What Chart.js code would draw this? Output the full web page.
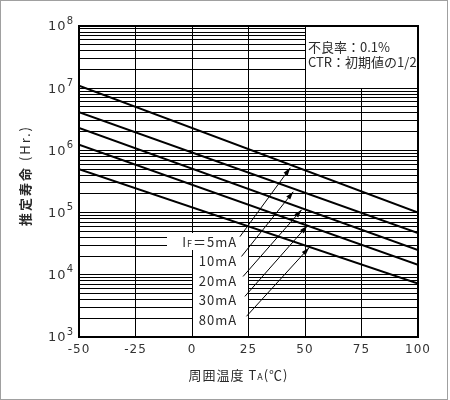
<!DOCTYPE html>
<html>
<head>
<meta charset="utf-8">
<script src="https://cdn.jsdelivr.net/npm/chart.js@4.4.1/dist/chart.umd.min.js"></script>
<style>
  html, body { margin: 0; padding: 0; background: #fff; }
  #wrap { width: 450px; height: 400px; }
</style>
</head>
<body>
<div id="wrap"><canvas id="lifeChart" width="450" height="400"></canvas></div>
<script>
// ambient temperature (°C) at the two ends of each line
const temps = [-50, 100];
const currents = ['5mA', '10mA', '20mA', '30mA', '80mA'];
// estimated life (Hr.)
const life5mA = [1.1e7, 1.0e5];
const life10mA = [4.1e6, 4.7e4];
const life20mA = [2.3e6, 2.5e4];
const life30mA = [1.23e6, 1.45e4];
const life80mA = [5.0e5, 7.2e3];
const series = [life5mA, life10mA, life20mA, life30mA, life80mA];

const tempTicks = [-50, -25, 0, 25, 50, 75, 100];
const lifeDecades = [1e3, 1e4, 1e5, 1e6, 1e7, 1e8];
const decadeExps = ['3', '4', '5', '6', '7', '8'];
const noteLines = ['不良率：0.1%', 'CTR：初期値の1/2'];

// arrows from the labels to the curves, in axis units
const tailTemp = [21.2, 21.9, 22.6, 23.4, 24.1];
const tailLife = [4.1e4, 1.97e4, 9.4e3, 4.5e3, 2.15e3];
const tipTemp = [43.5, 44.8, 48.5, 51, 51.8];
const tipLife = [5.25e5, 2.16e5, 1.11e5, 6.14e4, 2.72e4];
const labelLife = [3.4e4, 1.68e4, 8.0e3, 3.9e3, 1.87e3];

const TEXT = '#2a2a2a';
const JP = "'Noto Sans CJK JP', 'Noto Sans', sans-serif";

function arrow(ctx, x0, y0, x1, y1) {
  ctx.beginPath();
  ctx.moveTo(x0, y0);
  ctx.lineTo(x1, y1);
  ctx.stroke();
  const a = Math.atan2(y1 - y0, x1 - x0), L = 8, W = 2.5;
  ctx.beginPath();
  ctx.moveTo(x1, y1);
  ctx.lineTo(x1 - L * Math.cos(a) + W * Math.sin(a), y1 - L * Math.sin(a) - W * Math.cos(a));
  ctx.lineTo(x1 - L * Math.cos(a) - W * Math.sin(a), y1 - L * Math.sin(a) + W * Math.cos(a));
  ctx.closePath();
  ctx.fill();
}

const decor = {
  id: 'decor',
  beforeUpdate(chart) { chart.ctx.letterSpacing = '1px'; },
  beforeDatasetsDraw(chart) {
    const ctx = chart.ctx, x = chart.scales.x, y = chart.scales.y;
    // white patches behind the note and the current labels
    const blank = (t0, t1, v0, v1, insetL, insetR) => {
      const l = Math.floor(x.getPixelForValue(t0)) + insetL;
      const r = Math.floor(x.getPixelForValue(t1)) - insetR + 1;
      const t = Math.floor(y.getPixelForValue(v1)) + 1;
      const b = Math.floor(y.getPixelForValue(v0));
      ctx.fillRect(l, t, r - l, b - t);
    };
    ctx.save();
    ctx.fillStyle = '#fff';
    blank(50, 100, 1e7, 1e8, 1, 1);
    blank(-10.7, 24.5, 2.5e4, 4.8e4, 0, 0);
    blank(0, 24.5, 1e3, 2.5e4, 1, 0);
    ctx.restore();
  },
  afterDatasetsDraw(chart) {
    const ctx = chart.ctx, x = chart.scales.x, y = chart.scales.y;
    const area = chart.chartArea;
    ctx.save();
    ctx.letterSpacing = '1px';
    ctx.strokeStyle = '#000';
    ctx.fillStyle = '#000';
    ctx.lineWidth = 1;
    tailTemp.forEach((t, i) => {
      arrow(ctx, x.getPixelForValue(t), y.getPixelForValue(tailLife[i]),
        x.getPixelForValue(tipTemp[i]), y.getPixelForValue(tipLife[i]));
    });

    // current labels, right aligned
    const xr = x.getPixelForValue(20);
    ctx.fillStyle = TEXT;
    ctx.textBaseline = 'middle';
    ctx.textAlign = 'left';
    currents.forEach((c, i) => {
      const yy = y.getPixelForValue(labelLife[i]);
      ctx.font = '13px ' + JP;
      if (i === 0) {
        const rest = '＝' + c;
        const wI = ctx.measureText('I').width;
        const wR = ctx.measureText(rest).width;
        ctx.font = '9px ' + JP;
        const wF = ctx.measureText('F').width;
        let xs = xr - wI - wF - wR;
        ctx.font = '13px ' + JP;
        ctx.fillText('I', xs, yy);
        ctx.font = '9px ' + JP;
        ctx.fillText('F', xs + wI, yy + 2);
        ctx.font = '13px ' + JP;
        ctx.fillText(rest, xs + wI + wF, yy);
      } else {
        const w = ctx.measureText(c).width;
        ctx.fillText(c, xr - w, yy);
      }
    });

    // note in the top right corner
    ctx.letterSpacing = '0px';
    ctx.font = '13px ' + JP;
    const nx = x.getPixelForValue(50) + 3;
    ctx.fillText(noteLines[0], nx, area.top + 21);
    ctx.fillText(noteLines[1], nx, area.top + 36);
    ctx.restore();
  },
  afterDraw(chart) {
    const ctx = chart.ctx, a = chart.chartArea, y = chart.scales.y;
    ctx.save();
    ctx.strokeStyle = '#000';
    ctx.lineWidth = 2;
    ctx.strokeRect(a.left, a.top, a.right - a.left, a.bottom - a.top);

    // decade labels 10^n with a raised exponent
    ctx.letterSpacing = '1px';
    ctx.fillStyle = '#333';
    ctx.textBaseline = 'middle';
    lifeDecades.forEach((d, i) => {
      const yy = y.getPixelForValue(d);
      ctx.font = '10px DejaVu Sans';
      ctx.textAlign = 'right';
      ctx.fillText(decadeExps[i], a.left - 5, yy - 5);
      const we = ctx.measureText(decadeExps[i]).width;
      ctx.font = '13px DejaVu Sans';
      ctx.fillText('10', a.left - 5 - we, yy + 1);
    });

    // axis titles
    ctx.fillStyle = TEXT;
    ctx.textAlign = 'left';
    let xs = (a.left + a.right) / 2 - 60;
    const yt = 375;
    ctx.font = '13px ' + JP;
    ctx.fillText('周囲温度 T', xs, yt);
    xs += ctx.measureText('周囲温度 T').width;
    ctx.font = '9px ' + JP;
    ctx.fillText('A', xs, yt + 2);
    xs += ctx.measureText('A').width;
    ctx.font = '13px ' + JP;
    ctx.fillText('(℃)', xs, yt);

    // y title, written bottom to top
    ctx.translate(25, (a.top + a.bottom) / 2 - 6);
    ctx.rotate(-Math.PI / 2);
    ctx.letterSpacing = '2px';
    ctx.font = 'bold 13px ' + JP;
    const head = '推定寿命', tail = ' (Hr.)';
    const wh = ctx.measureText(head).width;
    ctx.font = '13px ' + JP;
    const wt = ctx.measureText(tail).width;
    const x0 = -(wh + wt) / 2;
    ctx.font = 'bold 13px ' + JP;
    ctx.fillText(head, x0, 0);
    ctx.font = '13px ' + JP;
    ctx.fillText(tail, x0 + wh, 0);
    ctx.restore();

    // picture frame
    ctx.save();
    ctx.strokeStyle = '#a0a0a0';
    ctx.lineWidth = 1;
    ctx.strokeRect(0.5, 0.5, 447, 399);
    ctx.restore();
  }
};

const canvas = document.getElementById('lifeChart');

new Chart(canvas, {
  type: 'line',
  data: {
    datasets: currents.map((c, i) => ({
      label: c,
      data: temps.map((t, j) => ({ x: t, y: series[i][j] })),
      borderColor: '#000',
      borderWidth: 2,
      pointRadius: 0,
      fill: false,
      tension: 0,
    })),
  },
  options: {
    responsive: false,
    devicePixelRatio: 1,
    animation: false,
    layout: { padding: { left: 0, right: 32, top: 26, bottom: 0 } },
    plugins: { legend: { display: false }, tooltip: { enabled: false } },
    scales: {
      x: {
        type: 'linear',
        min: -50,
        max: 100,
        afterBuildTicks: (scale) => {
          scale.ticks = tempTicks.map((v) => ({ value: v }));
        },
        afterFit: (scale) => { scale.height = 63; },
        grid: { color: '#000', lineWidth: 1, drawTicks: false },
        border: { display: false },
        ticks: {
          color: '#333',
          padding: 6,
          font: { family: 'DejaVu Sans', size: 12 },
          maxRotation: 0,
          autoSkip: false,
        },
      },
      y: {
        type: 'logarithmic',
        min: 1e3,
        max: 1e8,
        afterBuildTicks: (scale) => {
          const ticks = [];
          lifeDecades.forEach((d, i) => {
            if (i === lifeDecades.length - 1) {
              ticks.push({ value: d });
              return;
            }
            for (let m = 1; m < 10; m++) ticks.push({ value: m * d });
          });
          scale.ticks = ticks;
        },
        afterFit: (scale) => { scale.width = 79; },
        grid: { color: '#000', lineWidth: 1, drawTicks: false },
        border: { display: false },
        ticks: {
          display: true,
          color: 'rgba(0,0,0,0)',
          autoSkip: false,
          callback: () => ' ',
        },
      },
    },
  },
  plugins: [decor],
});
</script>
</body>
</html>
